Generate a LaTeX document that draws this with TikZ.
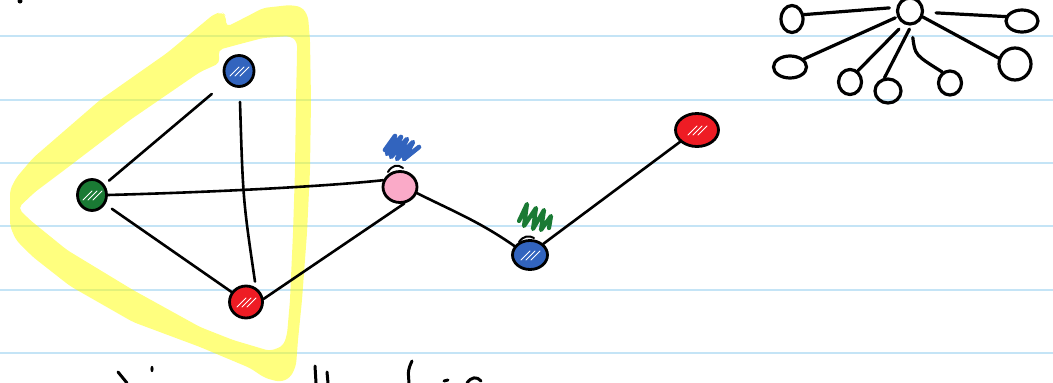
\documentclass[tikz,border=0pt]{standalone}
\usetikzlibrary{shapes.geometric}

\definecolor{rulecol}{RGB}{196,228,246}
\definecolor{nodeblue}{RGB}{50,100,190}
\definecolor{nodegreen}{RGB}{26,122,52}
\definecolor{nodered}{RGB}{238,28,36}
\definecolor{nodepink}{RGB}{250,170,200}
\definecolor{hiyellow}{RGB}{255,255,0}

\begin{document}
\begin{tikzpicture}[x=1pt,y=-1pt,
  vertex/.style={ellipse, draw=black, line width=2.8pt, inner sep=0pt},
  edge/.style={draw=black, line width=2.6pt, line cap=round, line join=round},
  ring/.style={ellipse, draw=black, line width=3.2pt, inner sep=0pt},
  spoke/.style={draw=black, line width=3.2pt, line cap=round},
  ink/.style={draw=black, line width=3pt, line cap=round},
  scribble/.style={line width=4.6pt, line cap=round, line join=round},
  sheen/.style={path picture={
    \foreach \k in {-7,-2,3}{
      \draw[white, line width=0.9pt, line cap=round]
        ([shift={(\k-2,5)}]path picture bounding box.center) -- ++(9,-9);
    }}}
]
% page
\fill[white] (0,0) rectangle (1053,383);
\useasboundingbox (0,0) rectangle (1053,383);

% ruled paper
\foreach \y in {36,99.5,163,226,289.5,353}
  \draw[rulecol, line width=2pt] (0,\y) -- (1053,\y);

% highlighter loop around the triangle
\fill[hiyellow, fill opacity=0.5, even odd rule, rounded corners=5pt]
  (214,14) -- (222,12) -- (226,16) -- (226,27) -- (246,17) -- (263,8) -- (290,5)
  -- (302,7) -- (308,16) -- (310,40) -- (311,100) -- (310,170) -- (307,233)
  -- (302,300) -- (298,340) -- (296,366) -- (290,378) -- (280,382) -- (265,378)
  -- (250,368) -- (200,347) -- (133,322) -- (70,286) -- (33,257) -- (16,240)
  -- (10,226) -- (10,190) -- (16,178) -- (33,158) -- (100,100) -- (167,53) -- cycle
  (218,50) -- (240,44) -- (263,38) -- (290,36) -- (297,41) -- (297,55)
  -- (296,100) -- (295,170) -- (293,233) -- (290,300) -- (287,335) -- (283,346)
  -- (270,351) -- (233,340) -- (200,327) -- (133,290) -- (67,250) -- (30,220)
  -- (18,208) -- (35,192) -- (67,168) -- (130,120) -- (200,72) -- (220,63) -- cycle;

% graph vertices
\node[vertex, fill=nodeblue, minimum width=30pt, minimum height=31pt, sheen] (b1) at (239,71) {};
\node[vertex, fill=nodegreen, minimum width=29pt, minimum height=31pt, sheen] (g) at (92,195) {};
\node[vertex, fill=nodered, minimum width=33pt, minimum height=32pt, sheen] (r1) at (246,302) {};
\node[vertex, fill=nodepink, minimum width=34pt, minimum height=31pt] (p) at (400,187) {};
\node[vertex, fill=nodeblue, minimum width=35pt, minimum height=29pt, sheen] (b2) at (530,255) {};
\node[vertex, fill=nodered, minimum width=43pt, minimum height=33pt, sheen] (r2) at (697,130) {};

% graph edges
\draw[edge, shorten <=19pt, shorten >=6pt] (b1) -- (g);
\draw[edge] ([shift={(1,14)}]b1.south) .. controls (243,200) .. ([shift={(9,-3)}]r1.north);
\draw[edge] (g.east) .. controls (220,192) and (330,186) .. (p.158);
\draw[edge, shorten <=8pt] (g) -- (r1);
\draw[edge] (r1.10) -- (p.-75);
\draw[edge] (p.-20) .. controls (455,212) and (480,222) .. (b2.150);
\draw[edge] (b2.40) -- (r2.215);

% pen restarts on two outlines
\draw[edge, line width=2pt] (388,172) .. controls (392,165) and (398,164) .. (403,168);
\draw[edge, line width=2pt] (519,242) .. controls (523,236) and (529,235) .. (534,238);

% colour marks above two vertices
\draw[nodeblue, scribble] (385,150) -- (395,136) -- (387,154) -- (401,137) -- (391,157)
  -- (407,139) -- (397,159) -- (413,142) -- (404,159) -- (419,147);
\draw[nodegreen, scribble, line width=4.2pt] (519,221) -- (527,204) -- (524,226) -- (536,208)
  -- (533,229) -- (544,210) -- (541,230) -- (551,216) -- (549,228);

% star graph
\node[ring, minimum width=25pt, minimum height=26pt] (hub) at (910,11) {};
\node[ring, minimum width=22pt, minimum height=27pt] (s1) at (792,19) {};
\node[ring, minimum width=32pt, minimum height=22pt] (s2) at (1022,21) {};
\node[ring, minimum width=33pt, minimum height=22pt] (s3) at (790,67) {};
\node[ring, minimum width=23pt, minimum height=25pt] (s4) at (850,82) {};
\node[ring, minimum width=26pt, minimum height=24pt] (s5) at (888,91) {};
\node[ring, minimum width=23pt, minimum height=24pt] (s6) at (950,83) {};
\node[ring, minimum width=32pt, minimum height=32pt] (s7) at (1015,64) {};

\draw[spoke, shorten <=7pt] (hub.165) -- (s1.20);
\draw[spoke, shorten <=12pt, shorten >=-2pt] (hub.-5) -- (s2.165);
\draw[spoke, shorten <=2pt] (hub.205) -- (s3.30);
\draw[spoke, shorten <=7pt] (hub.245) -- (s4.55);
\draw[spoke, shorten <=4pt] (hub.275) -- (s5.105);
\draw[spoke, shorten <=12pt] (hub.275) .. controls (915,55) .. (s6.125);
\draw[spoke] (hub.-25) -- (s7.160);

% handwriting running off the page edges
\fill (20,1) circle (2.5);
\draw[ink] (118,372) .. controls (122,377) .. (127,383);
\fill (152,369) ellipse (1.6 and 3.2);
\draw[ink] (315,366) -- (316,383);
\draw[ink] (327,372) -- (328,383);
\draw[ink] (412,361) .. controls (408,370) .. (409,383);
\draw[ink] (444,381) -- (448,380);
\draw[ink] (467,383) .. controls (471,377) and (477,376) .. (481,381);
\end{tikzpicture}
\end{document}
